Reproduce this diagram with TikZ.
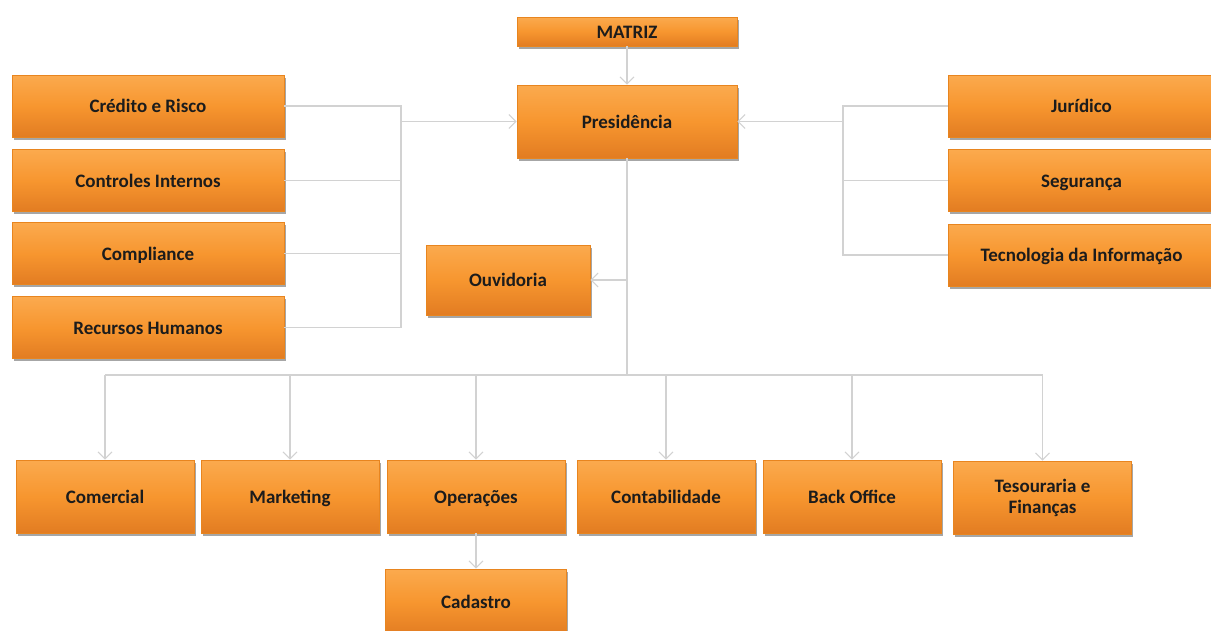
\documentclass[tikz,border=0pt]{standalone}
\usepackage{fontspec}
\setmainfont{Carlito}
\usetikzlibrary{arrows.meta,shadows}
\definecolor{ortop}{HTML}{FBAA4E}
\definecolor{ormid}{HTML}{F7962F}
\definecolor{orbot}{HTML}{E27C22}
\definecolor{oredge}{HTML}{E8851F}
\definecolor{conncol}{HTML}{D2D2D2}
\definecolor{txt}{HTML}{1C1C1C}
\begin{document}
\begin{tikzpicture}[x=1pt,y=-1pt,
  box/.style={rectangle, draw=oredge, line width=0.6pt, top color=ortop, bottom color=orbot, middle color=ormid,
    drop shadow={shadow xshift=1.5pt, shadow yshift=-2.5pt, fill=black, opacity=0.35},
    inner sep=0pt, align=center, font=\fontsize{19}{21}\selectfont\bfseries, text=txt,
    text height=15pt, text depth=2pt},
  wbox/.style={box, minimum width=272, minimum height=62},
  bbox/.style={box, minimum width=178, minimum height=73},
  conn/.style={draw=conncol, line width=1.1pt},
  arr/.style={conn, -{Straight Barb[length=7pt,width=14pt,line width=1.1pt]}}]
\useasboundingbox[fill=white] (0,0) rectangle (1211,630);

\node[box, minimum width=220, minimum height=29] (mat) at (627,31.5) {MATRIZ};
\node[box, minimum width=220, minimum height=73] (pres) at (627,121.5) {Presidência};

\node[wbox] (cr) at (148,106) {Crédito e Risco};
\node[wbox] (ci) at (148,180.5) {Controles Internos};
\node[wbox] (co) at (148,253.5) {Compliance};
\node[wbox] (rh) at (148,327.5) {Recursos Humanos};

\node[box, minimum width=164, minimum height=70] (ouv) at (508,280) {Ouvidoria};

\node[wbox, minimum width=267] (jur) at (1081.5,106) {Jurídico};
\node[wbox, minimum width=267] (seg) at (1081.5,180.5) {Segurança};
\node[wbox, minimum width=267] (ti) at (1081.5,255) {Tecnologia da Informação};

\node[bbox] (com) at (105,496.5) {Comercial};
\node[bbox] (mkt) at (290,496.5) {Marketing};
\node[bbox] (ope) at (476,496.5) {Operações};
\node[bbox] (cont) at (666,496.5) {Contabilidade};
\node[bbox] (bo) at (852,496.5) {Back Office};
\node[bbox, text height=, text depth=] (tes) at (1042.5,497.5) {Tesouraria e\\Finanças};
\node[box, minimum width=181, minimum height=66] (cad) at (476,602) {Cadastro};

% connectors
\draw[arr] (mat.south) -- (pres.north);

\coordinate (lx) at (401,0);
\draw[conn] (cr.east) -- (cr.east -| lx) -- (rh.east -| lx) -- (rh.east);
\draw[conn] (ci.east) -- (ci.east -| lx);
\draw[conn] (co.east) -- (co.east -| lx);
\draw[arr] (lx |- pres.west) -- (pres.west);

\coordinate (rx) at (843,0);
\draw[conn] (jur.west) -- (jur.west -| rx) -- (ti.west -| rx) -- (ti.west);
\draw[conn] (seg.west) -- (seg.west -| rx);
\draw[arr] (rx |- pres.east) -- (pres.east);

\coordinate (bus) at (627,375);
\draw[conn] (pres.south) -- (bus);
\draw[arr] (pres.south |- ouv.east) -- (ouv.east);
\draw[conn] (com.north |- bus) -- (tes.north |- bus);
\foreach \n in {com,mkt,ope,cont,bo,tes}{
  \draw[arr] (\n.north |- bus) -- (\n.north);
}
\draw[arr] (ope.south) -- (cad.north);
\end{tikzpicture}
\end{document}
